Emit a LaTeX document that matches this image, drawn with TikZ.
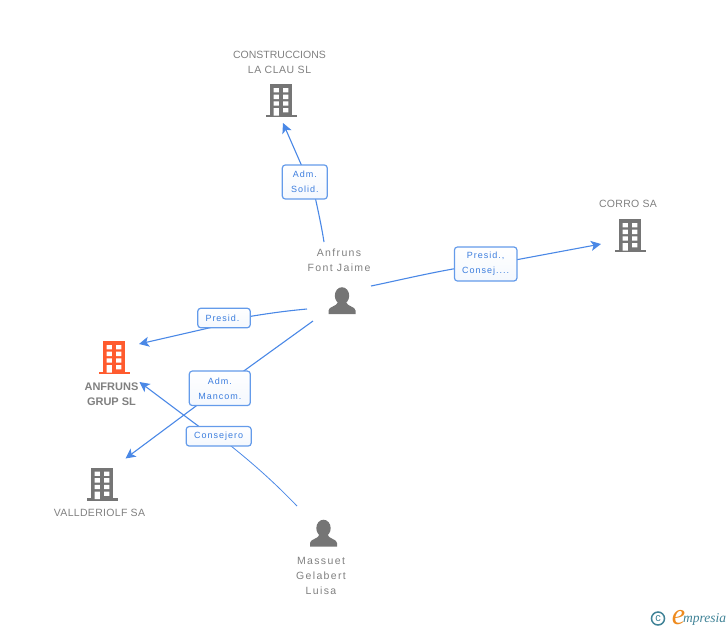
\documentclass[tikz,border=0pt]{standalone}
\usepackage{fontspec}
\setmainfont{Liberation Sans}
\newfontfamily\logofont{Liberation Serif}
\usetikzlibrary{arrows.meta,backgrounds,shadings}
\definecolor{linkblue}{HTML}{4A88E6}
\definecolor{labelblue}{HTML}{3B7DDE}
\definecolor{boxblue}{HTML}{649BEA}
\definecolor{icongray}{HTML}{757575}
\definecolor{textgray}{HTML}{808080}
\definecolor{hiorange}{HTML}{FF5B2E}
\definecolor{logoteal}{HTML}{3F8296}
\definecolor{logoorange}{HTML}{EE8A1E}
\tikzset{
  x=1pt,y=-1pt,
  linkbox/.style={draw=boxblue,line width=1.2pt,rounded corners=3pt,top color=white,bottom color=white!93!boxblue,
    minimum height=#1,inner sep=0pt,align=center,text=labelblue,
    font=\fontsize{9}{15}\selectfont\addfontfeature{LetterSpace=11}},
  linkbox/.default=19pt,
  link/.style={draw=linkblue,line width=1.1pt},
  linkarrow/.style={link,-{Stealth[length=10pt,width=10pt,inset=2.5pt]}},
  nametext/.style={text=textgray,align=center,inner sep=0pt,
    font=\fontsize{10.5}{15}\selectfont},
  capsname/.style={nametext,font=\fontsize{10.5}{15}\selectfont\addfontfeature{LetterSpace=3}},
  spacedname/.style={nametext,font=\fontsize{10.5}{15}\selectfont\addfontfeature{LetterSpace=13}},
  pics/building/.style={code={
    \fill[#1] (-11,-33) rectangle (11,-1);
    \fill[#1] (-15.5,-2.5) rectangle (15.5,0);
    \fill[white] (-7.3,-29) rectangle (-2.2,-24.7) (2.2,-29) rectangle (7.3,-24.7)
      (-7.3,-22.3) rectangle (-2.2,-18) (2.2,-22.3) rectangle (7.3,-18)
      (-7.3,-15.6) rectangle (-2.2,-11.3) (2.2,-15.6) rectangle (7.3,-11.3)
      (-7.3,-9) rectangle (-2.2,-1.5) (2.2,-9) rectangle (7.3,-4.7);
  }},
  pics/person/.style={code={
    \fill[icongray] (0,-18.3) ellipse (7.2 and 8.5);
    \fill[icongray] (-13.5,0) -- (-13.5,-3.5) .. controls (-13.5,-7.5) and (-5,-7.5) .. (-4,-12)
      -- (4,-12) .. controls (5,-7.5) and (13.5,-7.5) .. (13.5,-3.5) -- (13.5,0) -- cycle;
  }},
}
\begin{document}
\begin{tikzpicture}
\useasboundingbox (0,0) rectangle (728,630);
% icons
\pic at (281,117) {building=icongray};
\pic at (630,252) {building=icongray};
\pic at (114,374) {building=hiorange};
\pic at (102,500.5) {building=icongray};
\pic at (342,314) {person};
\pic at (323.5,546.5) {person};
% names
\node[nametext] (clau) at (279.5,62.5) {CONSTRUCCIONS\\{\addfontfeature{LetterSpace=5}LA CLAU SL}};
\node[capsname] (corro) at (628,204) {CORRO SA};
\node[nametext,font=\fontsize{11}{15}\selectfont\bfseries] (anfruns) at (111.5,394) {ANFRUNS\\GRUP SL};
\node[capsname] (valld) at (99.5,513) {VALLDERIOLF SA};
\node[spacedname] (jaime) at (339,260) {Anfruns\\Font Jaime};
\node[spacedname] (luisa) at (321,575.5) {Massuet\\Gelabert\\Luisa};
% link labels
\node[linkbox=34pt,minimum width=45pt] (solid) at (304.8,182) {Adm.\hspace{4pt}\\Solid.};
\node[linkbox=34pt,minimum width=62.5pt] (consej) at (485.7,264) {Presid.,\\Consej....};
\node[linkbox=19.5pt,minimum width=52.5pt] (presid) at (224,318) {Presid.\hspace{3pt}};
\node[linkbox=34.5pt,minimum width=61pt] (mancom) at (219.8,388.3) {Adm.\hspace{3pt}\\Mancom.};
\node[linkbox=19.5pt,minimum width=65pt] (consejero) at (218.7,436.3) {Consejero};
% free ends
\coordinate (jA) at (324,242);
\coordinate (tA) at (283,123);
\coordinate (jB) at (371,286);
\coordinate (tB) at (601,244);
\coordinate (jC) at (307,309);
\coordinate (tC) at (139,344);
\coordinate (jD) at (313,321);
\coordinate (tD) at (125.5,458.5);
\coordinate (lE) at (297,506);
\coordinate (tE) at (139.5,382);
% connectors
\begin{scope}[on background layer]
\draw[link] (jA) .. controls (321.5,226) and (318,210) .. ([xshift=7pt]solid.center);
\draw[linkarrow] ([xshift=4pt]solid.center) -- (tA);
\draw[link] (jB) .. controls (405,279) and (445,269) .. (consej.center);
\draw[linkarrow] ([yshift=-1.5pt,xshift=0pt]consej.center) -- (tB);
\draw[link] (jC) .. controls (285,311) and (262,314) .. ([yshift=-3pt]presid.center);
\draw[linkarrow] ([yshift=-6.5pt]presid.center) -- (tC);
\draw[link] (jD) -- (mancom.center);
\draw[linkarrow] (mancom.center) -- (tD);
\draw[link,line width=0.8pt] (lE) .. controls (272,480) and (248,459) .. (consejero.center);
\draw[linkarrow] ([yshift=-5pt]consejero.center) -- (tE);
\end{scope}
% logo
\node[circle,draw=logoteal,line width=1.5pt,minimum size=13pt,inner sep=0pt,text=logoteal,font=\fontsize{11}{11}\selectfont] (copyright) at (658,618.5) {c};
\node[inner sep=0pt,text=logoorange,font=\logofont\itshape\fontsize{30}{30}\selectfont] (elogo) at (678.5,617.5) {e};
\node[inner sep=0pt,text=logoteal,anchor=west,font=\logofont\itshape\fontsize{13.5}{13.5}\selectfont] (mpresia) at (683,619.5) {mpresia};
\end{tikzpicture}
\end{document}
